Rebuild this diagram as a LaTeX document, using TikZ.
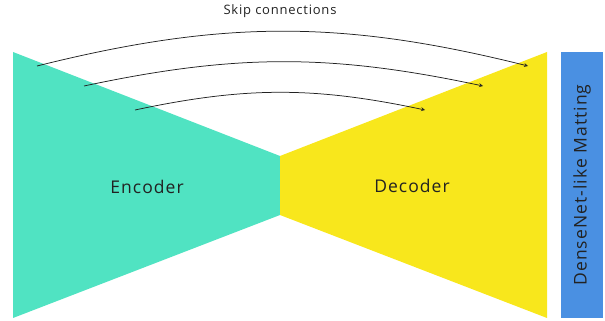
\documentclass[tikz,border=0pt]{standalone}
\usepackage{fontspec}
\setmainfont{Open Sans}
\newfontfamily\spacedfont[LetterSpace=6]{Open Sans}
\definecolor{enccol}{HTML}{50E3C2}
\definecolor{deccol}{HTML}{F8E71C}
\definecolor{mattcol}{HTML}{4A90E2}
\definecolor{txtcol}{HTML}{222222}
\tikzset{
  part/.style={font=\spacedfont\fontsize{17.5}{20}\selectfont,text=txtcol},
  skiparrow/.style={->,line width=0.75pt,draw=txtcol},
}
\begin{document}
\begin{tikzpicture}[x=1pt,y=1pt,>=stealth]
\useasboundingbox (0,0) rectangle (605,321);
% encoder and decoder wedges
\fill[enccol] (13,269) -- (280,165) -- (280,106) -- (13,3) -- cycle;
\fill[deccol] (280,165) -- (547,269) -- (547,3) -- (280,106) -- cycle;
\fill[mattcol] (561,3) rectangle (603,269);

\node[part] (enc) at (147,134) {Encoder};
\node[part] (dec) at (412,135) {Decoder};
\node[part,rotate=90] (matt) at (582,136) {DenseNet-like Matting};
\node[font=\spacedfont\fontsize{13}{15}\selectfont,text=txtcol] (skip) at (280,310) {Skip connections};

% skip connections
\coordinate (s1) at (37,255);  \coordinate (e1) at (528,255);
\coordinate (s2) at (84,235);  \coordinate (e2) at (483,235);
\coordinate (s3) at (135,211); \coordinate (e3) at (425,211);
\draw[skiparrow] (s1) to[bend left=14] (e1);
\draw[skiparrow] (s2) to[bend left=12] (e2);
\draw[skiparrow] (s3) to[bend left=12] (e3);
\end{tikzpicture}
\end{document}
